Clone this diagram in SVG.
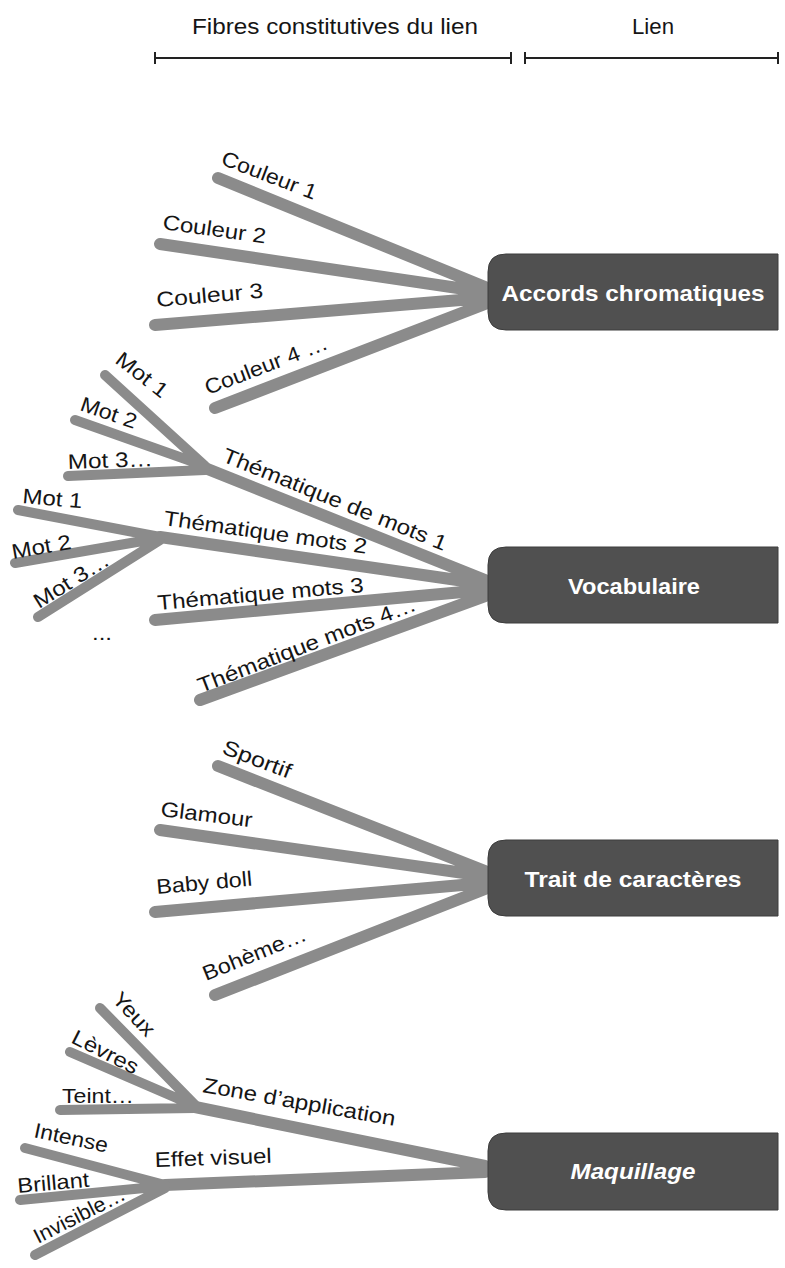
<svg xmlns="http://www.w3.org/2000/svg" width="785" height="1268" viewBox="0 0 785 1268">
<style>
.bg{fill:#ffffff}
.lbl{font-family:"Liberation Sans",Arial,sans-serif;font-size:21px;fill:#151515}
.hdr{font-family:"Liberation Sans",Arial,sans-serif;font-size:22.5px;fill:#151515}
.box{fill:#505050;stroke:#3c3c3c;stroke-width:1}
.bt{font-family:"Liberation Sans",Arial,sans-serif;font-size:22px;font-weight:bold;fill:#ffffff;text-anchor:middle}
.f{stroke:#8b8b8b;stroke-width:12;stroke-linecap:round;fill:none}
.s{stroke:#8b8b8b;stroke-width:10;stroke-linecap:round;fill:none}
.rule{stroke:#222;stroke-width:2;fill:none}
</style>
<rect class="bg" x="0" y="0" width="785" height="1268"/>
<g id="header">
<text class="hdr" x="192" y="34" textLength="286" lengthAdjust="spacingAndGlyphs">Fibres constitutives du lien</text>
<text class="hdr" x="632" y="34" textLength="42" lengthAdjust="spacingAndGlyphs">Lien</text>
<path class="rule" d="M155 58 H511 M155 52 V64 M511 52 V64 M525 58 H778 M525 52 V64 M778 52 V64"/>
</g>
<g id="connectors">
<path class="f" d="M218 178 L485 287 M160 244 L485 292 M155 325 L485 298 M215 408 L485 304"/>
<path class="f" d="M205 468 L485 580 M160 537 L485 584 M155 620 L485 590 M200 700 L485 596"/>
<path class="s" d="M105 375 L205 466 M75 420 L205 466 M68 476 L205 470"/>
<path class="s" d="M18 510 L160 537 M15 563 L160 538 M38 617 L160 540"/>
<path class="f" d="M218 766 L485 871 M160 830 L485 876 M155 912 L485 883 M215 995 L485 889"/>
<path class="f" d="M195 1107 L485 1166 M165 1185 L485 1172"/>
<path class="s" d="M100 1008 L195 1105 M70 1052 L195 1106 M60 1110 L195 1108"/>
<path class="s" d="M25 1148 L165 1185 M20 1200 L165 1186 M35 1255 L165 1188"/>
</g>
<g id="node-accords">
<path class="box" d="M506 254 H778 V330 H506 Q488 330 488 312 V272 Q488 254 506 254 Z"/>
<text class="bt" x="633" y="301" textLength="263" lengthAdjust="spacingAndGlyphs">Accords chromatiques</text>
<text class="lbl" transform="translate(220,164) rotate(21)" textLength="100" lengthAdjust="spacingAndGlyphs">Couleur 1</text>
<text class="lbl" transform="translate(162,229) rotate(8)" textLength="104" lengthAdjust="spacingAndGlyphs">Couleur 2</text>
<text class="lbl" transform="translate(157,307) rotate(-5)" textLength="107" lengthAdjust="spacingAndGlyphs">Couleur 3</text>
<text class="lbl" transform="translate(208,395) rotate(-21)" textLength="130" lengthAdjust="spacingAndGlyphs">Couleur 4 …</text>
</g>
<g id="node-vocabulaire">
<path class="box" d="M506 547 H778 V623 H506 Q488 623 488 605 V565 Q488 547 506 547 Z"/>
<text class="bt" x="634" y="594" textLength="132" lengthAdjust="spacingAndGlyphs">Vocabulaire</text>
<text class="lbl" transform="translate(221,461) rotate(22)" textLength="240" lengthAdjust="spacingAndGlyphs">Thématique de mots 1</text>
<text class="lbl" transform="translate(114,362) rotate(38)" textLength="60" lengthAdjust="spacingAndGlyphs">Mot 1</text>
<text class="lbl" transform="translate(79,410) rotate(19)" textLength="58" lengthAdjust="spacingAndGlyphs">Mot 2</text>
<text class="lbl" transform="translate(68,469) rotate(-2)" textLength="85" lengthAdjust="spacingAndGlyphs">Mot 3…</text>
<text class="lbl" transform="translate(163,525) rotate(8)" textLength="205" lengthAdjust="spacingAndGlyphs">Thématique mots 2</text>
<text class="lbl" transform="translate(22,503) rotate(5)" textLength="60" lengthAdjust="spacingAndGlyphs">Mot 1</text>
<text class="lbl" transform="translate(13,559) rotate(-10)" textLength="60" lengthAdjust="spacingAndGlyphs">Mot 2</text>
<text class="lbl" transform="translate(39,609) rotate(-32)" textLength="85" lengthAdjust="spacingAndGlyphs">Mot 3…</text>
<text class="lbl" transform="translate(158,610) rotate(-5)" textLength="207" lengthAdjust="spacingAndGlyphs">Thématique mots 3</text>
<text class="lbl" x="92" y="640" textLength="20" lengthAdjust="spacingAndGlyphs">...</text>
<text class="lbl" transform="translate(201,693) rotate(-21)" textLength="232" lengthAdjust="spacingAndGlyphs">Thématique mots 4…</text>
</g>
<g id="node-trait">
<path class="box" d="M506 840 H778 V916 H506 Q488 916 488 898 V858 Q488 840 506 840 Z"/>
<text class="bt" x="633" y="887" textLength="217" lengthAdjust="spacingAndGlyphs">Trait de caractères</text>
<text class="lbl" transform="translate(221,753) rotate(21)" textLength="72" lengthAdjust="spacingAndGlyphs">Sportif</text>
<text class="lbl" transform="translate(160,816) rotate(7)" textLength="92" lengthAdjust="spacingAndGlyphs">Glamour</text>
<text class="lbl" transform="translate(157,894) rotate(-5)" textLength="96" lengthAdjust="spacingAndGlyphs">Baby doll</text>
<text class="lbl" transform="translate(206,981) rotate(-22)" textLength="110" lengthAdjust="spacingAndGlyphs">Bohème…</text>
</g>
<g id="node-maquillage">
<path class="box" d="M506 1133 H778 V1210 H506 Q488 1210 488 1192 V1151 Q488 1133 506 1133 Z"/>
<text class="bt" x="633" y="1179" font-style="italic" textLength="125" lengthAdjust="spacingAndGlyphs">Maquillage</text>
<text class="lbl" transform="translate(202,1092) rotate(10)" textLength="195" lengthAdjust="spacingAndGlyphs">Zone d’application</text>
<text class="lbl" transform="translate(111,1000) rotate(47)" textLength="52" lengthAdjust="spacingAndGlyphs">Yeux</text>
<text class="lbl" transform="translate(70,1042) rotate(27)" textLength="72" lengthAdjust="spacingAndGlyphs">Lèvres</text>
<text class="lbl" x="62" y="1103" textLength="72" lengthAdjust="spacingAndGlyphs">Teint…</text>
<text class="lbl" transform="translate(155,1167) rotate(-2)" textLength="117" lengthAdjust="spacingAndGlyphs">Effet visuel</text>
<text class="lbl" transform="translate(33,1137) rotate(12)" textLength="75" lengthAdjust="spacingAndGlyphs">Intense</text>
<text class="lbl" transform="translate(18,1193) rotate(-5)" textLength="72" lengthAdjust="spacingAndGlyphs">Brillant</text>
<text class="lbl" transform="translate(38,1244) rotate(-27)" textLength="100" lengthAdjust="spacingAndGlyphs">Invisible…</text>
</g>
</svg>
